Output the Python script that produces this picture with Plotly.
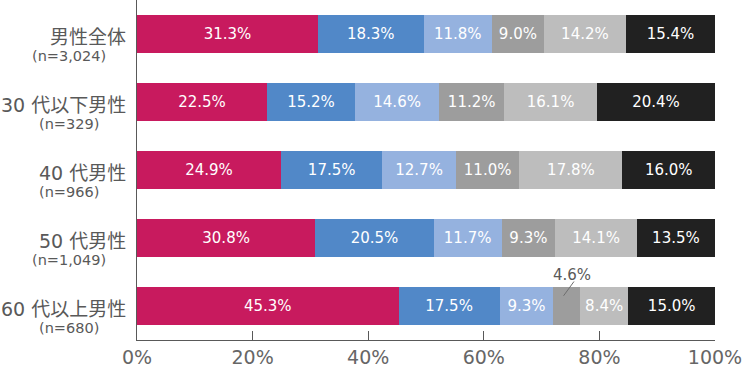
import plotly.graph_objects as go

categories = ["男性全体", "30 代以下男性", "40 代男性", "50 代男性", "60 代以上男性"]
sample_sizes = ["(n=3,024)", "(n=329)", "(n=966)", "(n=1,049)", "(n=680)"]

s1 = [31.3, 22.5, 24.9, 30.8, 45.3]
s2 = [18.3, 15.2, 17.5, 20.5, 17.5]
s3 = [11.8, 14.6, 12.7, 11.7, 9.3]
s4 = [9.0, 11.2, 11.0, 9.3, 4.6]
s5 = [14.2, 16.1, 17.8, 14.1, 8.4]
s6 = [15.4, 20.4, 16.0, 13.5, 15.0]

series = [s1, s2, s3, s4, s5, s6]
colors = ["#C81A5E", "#5188C8", "#95B2DF", "#9D9D9D", "#BDBDBD", "#212121"]
x_ticks = [0, 20, 40, 60, 80, 100]
x_ticklabels = ["0%", "20%", "40%", "60%", "80%", "100%"]

FONT = "DejaVu Sans, Noto Sans CJK JP, sans-serif"
ypos = list(range(len(categories)))

fig = go.Figure()
for i, (vals, col) in enumerate(zip(series, colors)):
    texts = [("" if v < 5 else f"{v:.1f}%") for v in vals]
    fig.add_trace(go.Bar(
        y=ypos, x=vals, orientation="h", width=0.545,
        marker=dict(color=col, line=dict(width=0)),
        text=texts, textposition="inside", insidetextanchor="middle",
        textangle=0, textfont=dict(color="white", size=15, family=FONT),
        hoverinfo="skip", showlegend=False, name=f"s{i+1}",
    ))

# small-segment outside label with leader line (row 5, 4th segment)
r = 4
start = s1[r] + s2[r] + s3[r]
mid = start + s4[r] / 2
fig.add_shape(type="line", xref="x", yref="y",
              x0=mid - 0.6, y0=r - 0.15, x1=mid + 1.2, y1=r - 0.36,
              line=dict(color="#6E6E6E", width=1))
fig.add_annotation(x=mid + 0.9, y=r - 0.46, xref="x", yref="y",
                   text=f"{s4[r]:.1f}%", showarrow=False,
                   font=dict(size=15, color="#595959", family=FONT))

for i, (c, n) in enumerate(zip(categories, sample_sizes)):
    fig.add_annotation(x=-0.0156, y=i, xref="paper", yref="y", text=c,
                       showarrow=False, xanchor="right", yanchor="middle",
                       yshift=-3, font=dict(size=19, color="#595959", family=FONT))
    fig.add_annotation(x=-0.1176, y=i, xref="paper", yref="y", text=n,
                       showarrow=False, xanchor="center", yanchor="middle",
                       yshift=-22, font=dict(size=14.5, color="#595959", family=FONT))

fig.update_layout(
    barmode="stack", barnorm="percent",
    width=746, height=368,
    margin=dict(l=137, r=31, t=0, b=26),
    plot_bgcolor="white", paper_bgcolor="white",
    font=dict(family=FONT),
    uniformtext=dict(minsize=15, mode="show"),
    xaxis=dict(range=[0, 100], tickvals=x_ticks, ticktext=x_ticklabels,
               showgrid=False, zeroline=False, showline=True,
               linecolor="#595959", linewidth=1,
               ticks="inside", ticklen=9, tickcolor="#595959",
               tickfont=dict(size=19, color="#666666", family=FONT)),
    yaxis=dict(range=[4.5, -0.5], tickvals=ypos, showticklabels=False,
               showgrid=False, zeroline=False, showline=True,
               linecolor="#595959", linewidth=1, ticks=""),
)

fig.write_html("out.html", config={"displayModeBar": False},
               post_script="document.body.style.margin='0';document.body.style.overflow='hidden';")
